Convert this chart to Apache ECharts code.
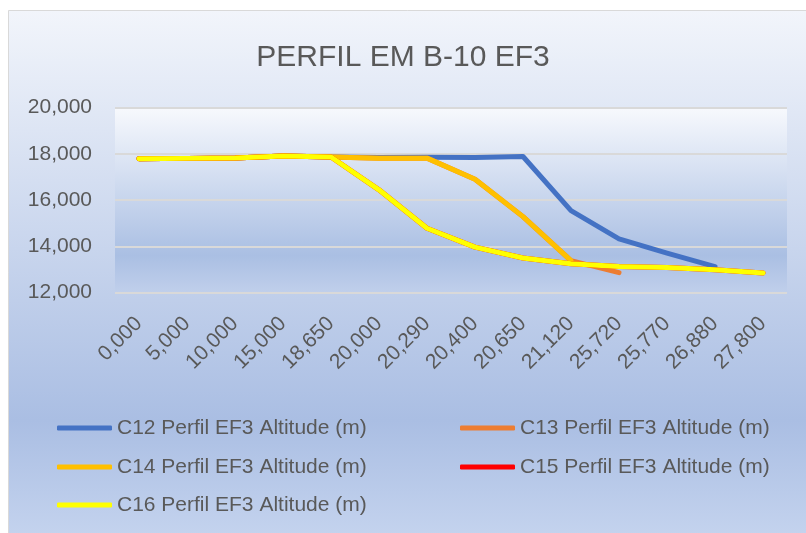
<!DOCTYPE html>
<html>
<head>
<meta charset="utf-8">
<script src="https://cdn.jsdelivr.net/npm/echarts@6/dist/echarts.min.js"></script>
<style>
  html, body { margin: 0; padding: 0; background: #ffffff; }
  #chart { width: 806px; height: 533px; }
</style>
</head>
<body>
<div id="chart"></div>
<script>
// Distance stations along the profile (category axis labels)
const distances = ['0,000', '5,000', '10,000', '15,000', '18,650', '20,000', '20,290',
                   '20,400', '20,650', '21,120', '25,720', '25,770', '26,880', '27,800'];

// Altitude (m) per profile
const c12 = [17780, 17800, 17820, 17900, 17860, 17840, 17850, 17840, 17880, 15540, 14320, 13700, 13120, null];
const c13 = [17780, 17800, 17820, 17900, 17860, 17810, 17810, 16900, 15280, 13380, 12860, null, null, null];
const c14 = [17780, 17800, 17820, 17900, 17860, 17810, 17810, 16900, 15280, 13380, null, null, null, null];
const c15 = [17780, 17800, 17820, 17900, 17860, 16440, 14780, 13960, 13490, 13240, 13120, 13080, 12980, 12840];
const c16 = [17780, 17800, 17820, 17900, 17860, 16440, 14780, 13960, 13490, 13240, 13120, 13080, 12980, 12840];

const seriesNames = [
  'C12 Perfil EF3 Altitude (m)',
  'C13 Perfil EF3 Altitude (m)',
  'C14 Perfil EF3 Altitude (m)',
  'C15 Perfil EF3 Altitude (m)',
  'C16 Perfil EF3 Altitude (m)'
];
const seriesData = [c12, c13, c14, c15, c16];
const seriesColors = ['#4472C4', '#ED7D31', '#FFC000', '#FF0000', '#FFFF00'];

const yMin = 12000, yMax = 20000, yStep = 2000;

const FONT = '"Liberation Sans", Arial, sans-serif';
const TEXT_COLOR = '#595959';

const chart = echarts.init(document.getElementById('chart'), null, { renderer: 'canvas' });

const outerFill = new echarts.graphic.LinearGradient(0, 0, 0, 1, [
  { offset: 0, color: '#F2F5FB' },
  { offset: 0.78, color: '#AABEE3' },
  { offset: 1, color: '#C4D3EE' }
]);
const plotFill = new echarts.graphic.LinearGradient(0, 0, 0, 1, [
  { offset: 0, color: '#F7F9FD' },
  { offset: 0.8, color: '#AABFE3' },
  { offset: 1, color: '#C0CFEB' }
]);

// Legend layout: two columns, one legend block per entry
const legendSlots = [
  { left: 57, top: 416 },
  { left: 460, top: 416 },
  { left: 57, top: 455 },
  { left: 460, top: 455 },
  { left: 57, top: 493 }
];
const legends = seriesNames.map((name, i) => ({
  data: [name],
  left: legendSlots[i].left,
  top: legendSlots[i].top,
  padding: 0,
  icon: 'roundRect',
  itemWidth: 55,
  itemHeight: 5,
  selectedMode: false,
  textStyle: { fontFamily: FONT, fontSize: 21, color: TEXT_COLOR, lineHeight: 24 }
}));

const option = {
  animation: false,
  graphic: [{
    type: 'rect',
    z: -10,
    silent: true,
    shape: { x: 8.5, y: 10.5, width: 800, height: 525 },
    style: { fill: outerFill, stroke: '#D9D9D9', lineWidth: 1 }
  }],
  title: {
    text: 'PERFIL EM B-10 EF3',
    left: 'center',
    top: 36,
    textStyle: { fontFamily: FONT, fontSize: 30, fontWeight: 'normal', color: TEXT_COLOR, lineHeight: 34 }
  },
  legend: legends,
  grid: {
    left: 115,
    right: 19,
    top: 107.5,
    bottom: 240.5,
    show: true,
    borderWidth: 0,
    backgroundColor: plotFill
  },
  xAxis: {
    type: 'category',
    data: distances,
    boundaryGap: true,
    axisLine: { show: false },
    axisTick: { show: false },
    axisLabel: {
      rotate: 45,
      interval: 0,
      margin: 28,
      align: 'right',
      verticalAlign: 'middle',
      fontFamily: FONT,
      fontSize: 21,
      color: TEXT_COLOR
    }
  },
  yAxis: {
    type: 'value',
    min: yMin,
    max: yMax,
    interval: yStep,
    axisLine: { show: false },
    axisTick: { show: false },
    splitLine: { lineStyle: { color: '#D9D9D9', width: 2 } },
    axisLabel: {
      margin: 23,
      fontFamily: FONT,
      fontSize: 21,
      color: TEXT_COLOR,
      formatter: v => v.toLocaleString('en-US')
    }
  },
  series: seriesNames.map((name, i) => ({
    name: name,
    type: 'line',
    data: seriesData[i],
    showSymbol: false,
    symbol: 'none',
    connectNulls: false,
    color: seriesColors[i],
    lineStyle: { width: 5, color: seriesColors[i], cap: 'round', join: 'round' },
    itemStyle: { color: seriesColors[i] }
  }))
};

chart.setOption(option);
</script>
</body>
</html>
